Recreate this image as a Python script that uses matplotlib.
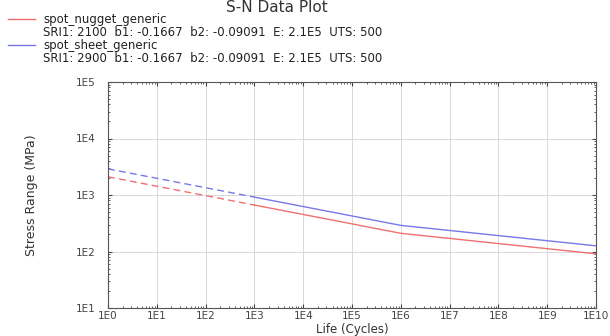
import matplotlib.pyplot as plt
import matplotlib.ticker as ticker
from matplotlib.lines import Line2D

# S-N curves (life in cycles, stress range in MPa)
life = [1, 1e3, 1e6, 1e10]
nugget_stress = [2100, 664, 210, 91]
sheet_stress = [2900, 917, 290, 126]

names = ['spot_nugget_generic', 'spot_sheet_generic']
params = ['SRI1: 2100  b1: -0.1667  b2: -0.09091  E: 2.1E5  UTS: 500',
          'SRI1: 2900  b1: -0.1667  b2: -0.09091  E: 2.1E5  UTS: 500']
colors = ['#f07070', '#7878e8']

xticks = [10.0 ** i for i in range(0, 11)]
xlabels = ['1E%d' % i for i in range(0, 11)]
yticks = [10.0 ** i for i in range(1, 6)]
ylabels = ['1E%d' % i for i in range(1, 6)]

plt.rcParams['font.family'] = ['DejaVu Sans']

fig = plt.figure(figsize=(6.1, 3.36), dpi=100)
ax = fig.add_axes([108 / 610, 1 - 308 / 336, 488 / 610, 226 / 336])

for stress, c in zip([nugget_stress, sheet_stress], colors):
    ax.plot(life[:2], stress[:2], color=c, lw=1, ls=(0, (5, 3)))
    ax.plot(life[1:], stress[1:], color=c, lw=1)

ax.set_xscale('log')
ax.set_yscale('log')
ax.set_xlim(1, 1e10)
ax.set_ylim(10, 1e5)
ax.set_xticks(xticks)
ax.set_xticklabels(xlabels)
ax.set_yticks(yticks)
ax.set_yticklabels(ylabels)
ax.xaxis.set_minor_locator(ticker.LogLocator(base=10, subs=range(2, 10), numticks=20))
ax.yaxis.set_minor_locator(ticker.LogLocator(base=10, subs=range(2, 10), numticks=20))
ax.xaxis.set_minor_formatter(ticker.NullFormatter())
ax.yaxis.set_minor_formatter(ticker.NullFormatter())
ax.tick_params(which='both', direction='in', top=True, right=True, labelsize=7.5, colors='#444444')
ax.tick_params(which='major', length=3)
ax.tick_params(which='minor', length=1.5)
ax.tick_params(axis='y', pad=9)
ax.tick_params(axis='x', pad=2.5)
ax.grid(True, which='major', color='#d8d8d8', lw=0.7)
for s in ax.spines.values():
    s.set_color('#555555')
    s.set_linewidth(0.8)

ax.set_xlabel('Life (Cycles)', fontsize=8.5, color='#333333')
ax.set_ylabel('Stress Range (MPa)', fontsize=9, color='#333333')
ax.xaxis.set_label_coords(0.5, -22 / 226)
ax.yaxis.set_label_coords(-76 / 488, 0.5)
ax.xaxis.label.set_va('center')
ax.yaxis.label.set_va('center')

fig.text(277 / 610, 1 - 7 / 336, 'S-N Data Plot', ha='center', va='center', fontsize=11, color='#333333')

# legend drawn by hand
for i in range(2):
    y0 = 19 + i * 26
    fig.add_artist(Line2D([8 / 610, 35 / 610], [1 - y0 / 336] * 2, color=colors[i], lw=1))
    fig.text(43 / 610, 1 - y0 / 336, names[i], va='center', fontsize=8.5, color='#222222')
    fig.text(43 / 610, 1 - (y0 + 13) / 336, params[i], va='center', fontsize=8.5, color='#222222')

fig.savefig('out.png', dpi=100)
